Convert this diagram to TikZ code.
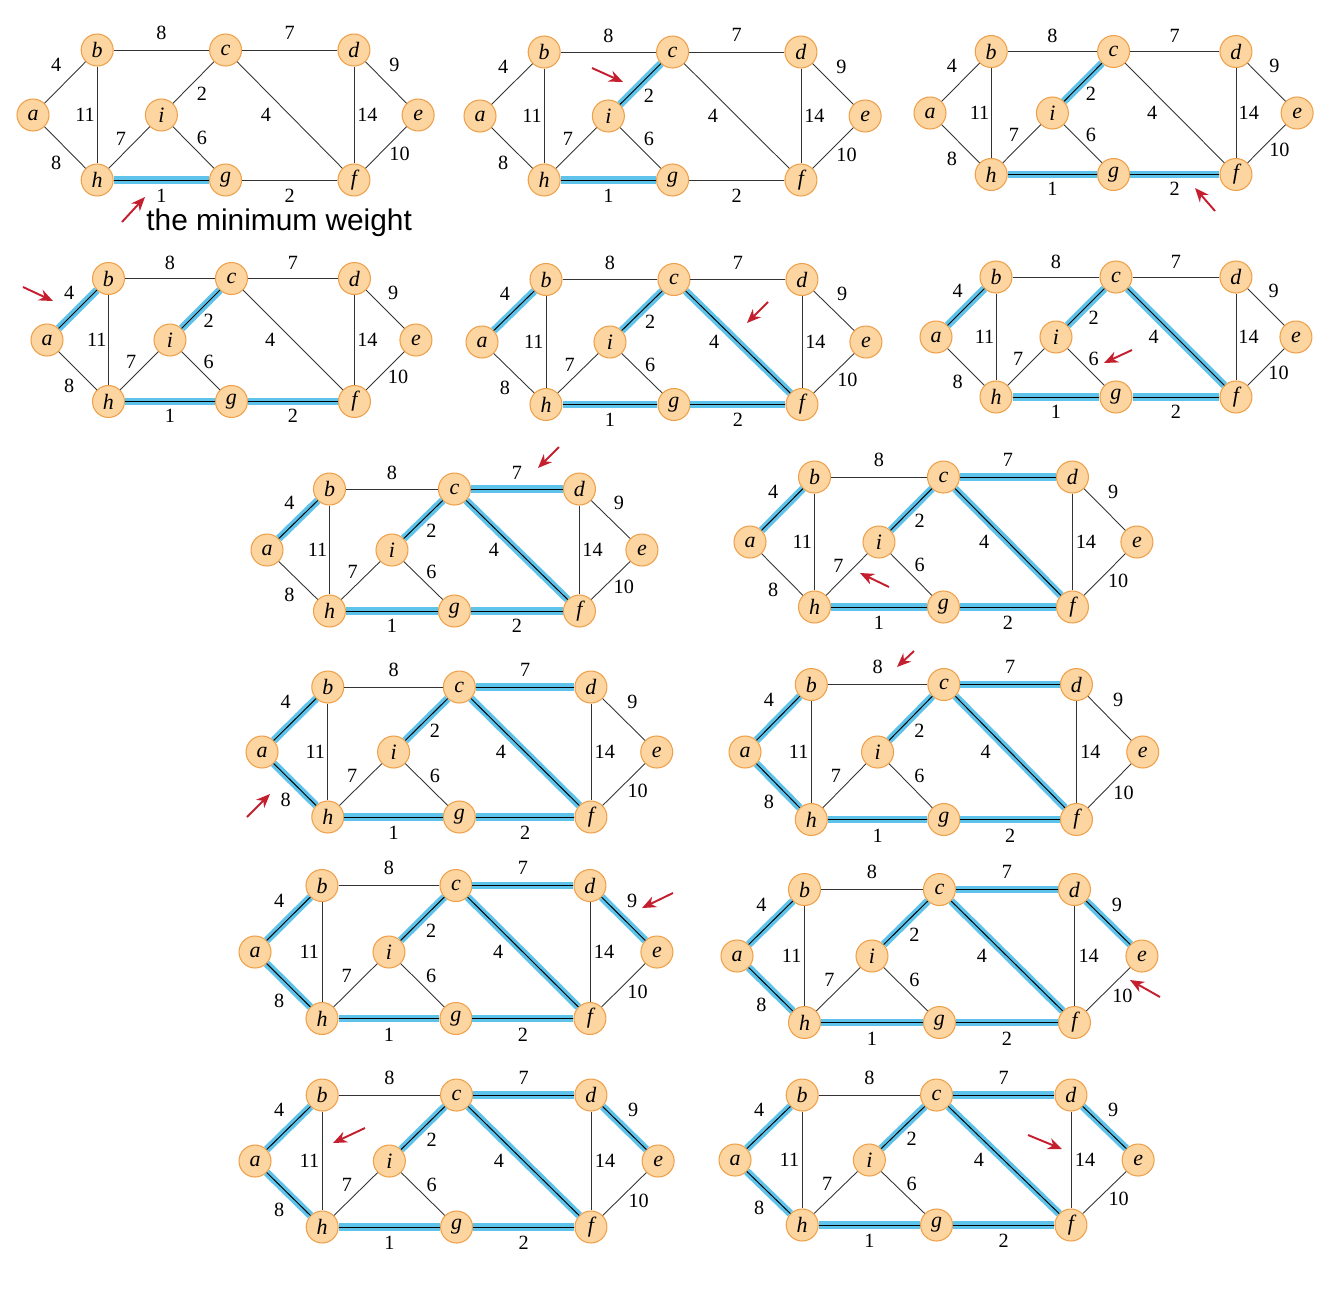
\documentclass[tikz,border=0pt]{standalone}
\usepackage{fontspec}
\setmainfont{Liberation Serif}
\newfontfamily\notefont{Liberation Sans}
\usepackage{tikz}
\usetikzlibrary{arrows.meta,positioning}

\definecolor{vfill}{HTML}{FDD5A0}
\definecolor{vline}{HTML}{EFA04A}
\definecolor{hlblue}{HTML}{5EC3EA}
\definecolor{ptr}{HTML}{C41F2F}

\tikzset{
  vtx/.style={circle, draw=vline, fill=vfill, line width=0.6pt, minimum size=0.64cm,
    inner sep=0pt, font=\fontsize{12.5}{14}\selectfont\itshape},
  edge/.style={draw=black!80, line width=0.5pt},
  tree/.style={draw=hlblue, line width=4.3pt, postaction={draw=black, line width=0.55pt}},
  wt/.style={inner sep=0pt, font=\fontsize{11.5}{13}\selectfont},
  pointer/.style={draw=ptr, line width=1.1pt, -{Stealth[length=2.8mm, width=2.3mm, inset=0.9mm]}},
  note/.style={inner sep=0pt, font=\notefont\fontsize{17}{20}\selectfont}
}

% one panel of the graph, #1 = the edges taken so far
\newcommand{\kgraph}[1]{%
  \node[vtx] (a) at (0,0) {a};
  \node[vtx] (b) at (1,1) {b};
  \node[vtx] (c) at (3,1) {c};
  \node[vtx] (d) at (5,1) {d};
  \node[vtx] (e) at (6,0) {e};
  \node[vtx] (f) at (5,-1) {f};
  \node[vtx] (g) at (3,-1) {g};
  \node[vtx] (h) at (1,-1) {h};
  \node[vtx] (i) at (2,0) {i};
  \foreach \u/\v in {a/b,b/c,c/d,d/e,e/f,f/g,g/h,h/a,b/h,h/i,i/c,i/g,c/f,d/f}
    \draw[edge] (\u) -- (\v);
  \foreach \u/\v in {#1}
    \draw[tree] (\u) -- (\v);
  % weights
  \node[wt] (w-ab) at (0.36,0.77) {4};
  \node[wt] (w-bc) at (2.0,1.26) {8};
  \node[wt] (w-cd) at (4.0,1.26) {7};
  \node[wt] (w-de) at (5.63,0.77) {9};
  \node[wt] (w-bh) at (0.81,0) {11};
  \node[wt] (w-ci) at (2.63,0.32) {2};
  \node[wt] (w-cf) at (3.63,0) {4};
  \node[wt] (w-df) at (5.21,0) {14};
  \node[wt] (w-hi) at (1.37,-0.36) {7};
  \node[wt] (w-ig) at (2.63,-0.36) {6};
  \node[wt] (w-ah) at (0.36,-0.74) {8};
  \node[wt] (w-ef) at (5.71,-0.6) {10};
  \node[wt] (w-hg) at (2.0,-1.24) {1};
  \node[wt] (w-gf) at (4.0,-1.24) {2};
}

\begin{document}
\begin{tikzpicture}[x=0.02cm, y=-0.02cm]
\useasboundingbox (0,0) rectangle (1334,1292);

% first row
\begin{scope}[name prefix=p1-, shift={(33,115)}, x=1.284cm, y=1.30cm]
  \kgraph{h/g}
\end{scope}
\begin{scope}[name prefix=p2-, shift={(480,116)}, x=1.284cm, y=1.28cm]
  \kgraph{h/g,c/i}
\end{scope}
\begin{scope}[name prefix=p3-, shift={(930,113)}, x=1.224cm, y=1.23cm]
  \kgraph{h/g,c/i,g/f}
\end{scope}

% second row
\begin{scope}[name prefix=p4-, shift={(47,340)}, x=1.23cm, y=1.23cm]
  \kgraph{h/g,c/i,g/f,a/b}
\end{scope}
\begin{scope}[name prefix=p5-, shift={(482,342)}, x=1.28cm, y=1.25cm]
  \kgraph{h/g,c/i,g/f,a/b,c/f}
\end{scope}
\begin{scope}[name prefix=p6-, shift={(936,337)}, x=1.20cm, y=1.20cm]
  \kgraph{h/g,c/i,g/f,a/b,c/f}
\end{scope}

% two panels a row from here on
\begin{scope}[name prefix=p7-, shift={(267,550)}, x=1.25cm, y=1.22cm]
  \kgraph{h/g,c/i,g/f,a/b,c/f,c/d}
\end{scope}
\begin{scope}[name prefix=p8-, shift={(750,542)}, x=1.29cm, y=1.30cm]
  \kgraph{h/g,c/i,g/f,a/b,c/f,c/d}
\end{scope}

\begin{scope}[name prefix=p9-, shift={(262,752)}, x=1.316cm, y=1.30cm]
  \kgraph{h/g,c/i,g/f,a/b,c/f,c/d,a/h}
\end{scope}
\begin{scope}[name prefix=p10-, shift={(745,752)}, x=1.326cm, y=1.35cm]
  \kgraph{h/g,c/i,g/f,a/b,c/f,c/d,a/h}
\end{scope}

\begin{scope}[name prefix=p11-, shift={(255,952)}, x=1.34cm, y=1.33cm]
  \kgraph{h/g,c/i,g/f,a/b,c/f,c/d,a/h,d/e}
\end{scope}
\begin{scope}[name prefix=p12-, shift={(737,956)}, x=1.35cm, y=1.33cm]
  \kgraph{h/g,c/i,g/f,a/b,c/f,c/d,a/h,d/e}
\end{scope}

\begin{scope}[name prefix=p13-, shift={(255,1161)}, x=1.344cm, y=1.32cm]
  \kgraph{h/g,c/i,g/f,a/b,c/f,c/d,a/h,d/e}
\end{scope}
\begin{scope}[name prefix=p14-, shift={(735,1160)}, x=1.344cm, y=1.30cm]
  \kgraph{h/g,c/i,g/f,a/b,c/f,c/d,a/h,d/e}
\end{scope}

% red pointers to the edge looked at
\foreach \n/\tx/\ty/\hx/\hy in {1/122/222/145/197, 2/592/68/623/82, 3/1215/211/1195/188,
    4/23/287/53/301, 5/768/302/747/323, 6/1132/350/1104/363, 7/559/447/538/468,
    8/889/587/860/573, 9/247/817/270/794, 10/914/651/897/667, 11/673/893/642/908,
    12/1160/997/1130/980, 13/365/1128/333/1143, 14/1028/1135/1062/1149} {
  \coordinate (tail\n) at (\tx,\ty);
  \coordinate (tip\n) at (\hx,\hy);
  \draw[pointer] (tail\n) -- (tip\n);
}

\node[note, anchor=base west] (minw) at (146,230) {the minimum weight};

\end{tikzpicture}
\end{document}
